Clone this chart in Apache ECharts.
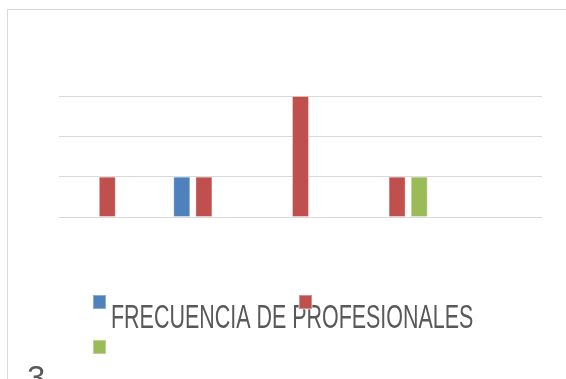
<!DOCTYPE html>
<html>
<head>
<meta charset="utf-8">
<script src="https://cdn.jsdelivr.net/npm/echarts@6/dist/echarts.min.js"></script>
<style>html,body{margin:0;padding:0;background:#fff;}#c{width:566px;height:379px;}</style>
</head>
<body>
<div id="c"></div>
<script>
var categories = ['1', '2', '3', '4', '5'];
var seriesNames = ['FRECUENCIA DE PROFESIONALES', ' ', '  '];
var blueValues = [null, 1, null, null, null];
var redValues = [1, 1, 3, 1, null];
var greenValues = [null, null, null, 1, null];
var yTicks = [0, 1, 2, 3];
var legendLabel = 'FRECUENCIA DE PROFESIONALES';
var cornerLabel = '3';

var colors = ['#4F81BD', '#C0504D', '#9BBB59'];
var chart = echarts.init(document.getElementById('c'), null, {renderer: 'canvas'});

function legendFor(name, left, top) {
  return {
    data: [name], left: left, top: top, padding: 0, icon: 'rect',
    itemWidth: 13, itemHeight: 14, selectedMode: false,
    formatter: function () { return ''; }, textStyle: {fontSize: 1}
  };
}

chart.setOption({
  animation: false,
  backgroundColor: '#fff',
  color: colors,
  grid: {left: 59, right: 24, top: 96, bottom: 162, containLabel: false},
  legend: [
    legendFor(seriesNames[0], 92, 294),
    legendFor(seriesNames[1], 298, 294),
    legendFor(seriesNames[2], 92, 339)
  ],
  xAxis: {
    type: 'category', data: categories,
    axisLine: {show: true, lineStyle: {color: '#D9D9D9', width: 1}},
    axisTick: {show: false}, axisLabel: {show: false}
  },
  yAxis: {
    type: 'value', min: yTicks[0], max: yTicks[yTicks.length - 1], interval: 1,
    axisLine: {show: false}, axisTick: {show: false}, axisLabel: {show: false},
    splitLine: {show: true, lineStyle: {color: '#D9D9D9', width: 1}}
  },
  series: [
    {name: seriesNames[0], type: 'bar', data: blueValues, barWidth: 17, barGap: '30%',
     itemStyle: {color: colors[0], borderColor: 'rgba(255,255,255,0.35)', borderWidth: 1}},
    {name: seriesNames[1], type: 'bar', data: redValues, barWidth: 17, barGap: '30%',
     itemStyle: {color: colors[1], borderColor: 'rgba(255,255,255,0.35)', borderWidth: 1}},
    {name: seriesNames[2], type: 'bar', data: greenValues, barWidth: 17, barGap: '30%',
     itemStyle: {color: colors[2], borderColor: 'rgba(255,255,255,0.35)', borderWidth: 1}}
  ],
  graphic: [
    {type: 'rect', silent: true, shape: {x: 7.5, y: 9.5, width: 700, height: 500},
     style: {fill: 'none', stroke: '#D9D9D9', lineWidth: 1}, z: -1},
    {type: 'text', x: 111, y: 319, scaleX: 0.65, silent: true,
     style: {text: legendLabel, x: 0, y: 0, fill: '#595959',
             font: '33px "Liberation Sans"', verticalAlign: 'middle', align: 'left'}},
    {type: 'text', x: 27, y: 363, silent: true,
     style: {text: cornerLabel, x: 0, y: 0, fill: '#595959',
             font: '33px "Liberation Sans"', verticalAlign: 'top', align: 'left'}}
  ]
});
</script>
</body>
</html>
